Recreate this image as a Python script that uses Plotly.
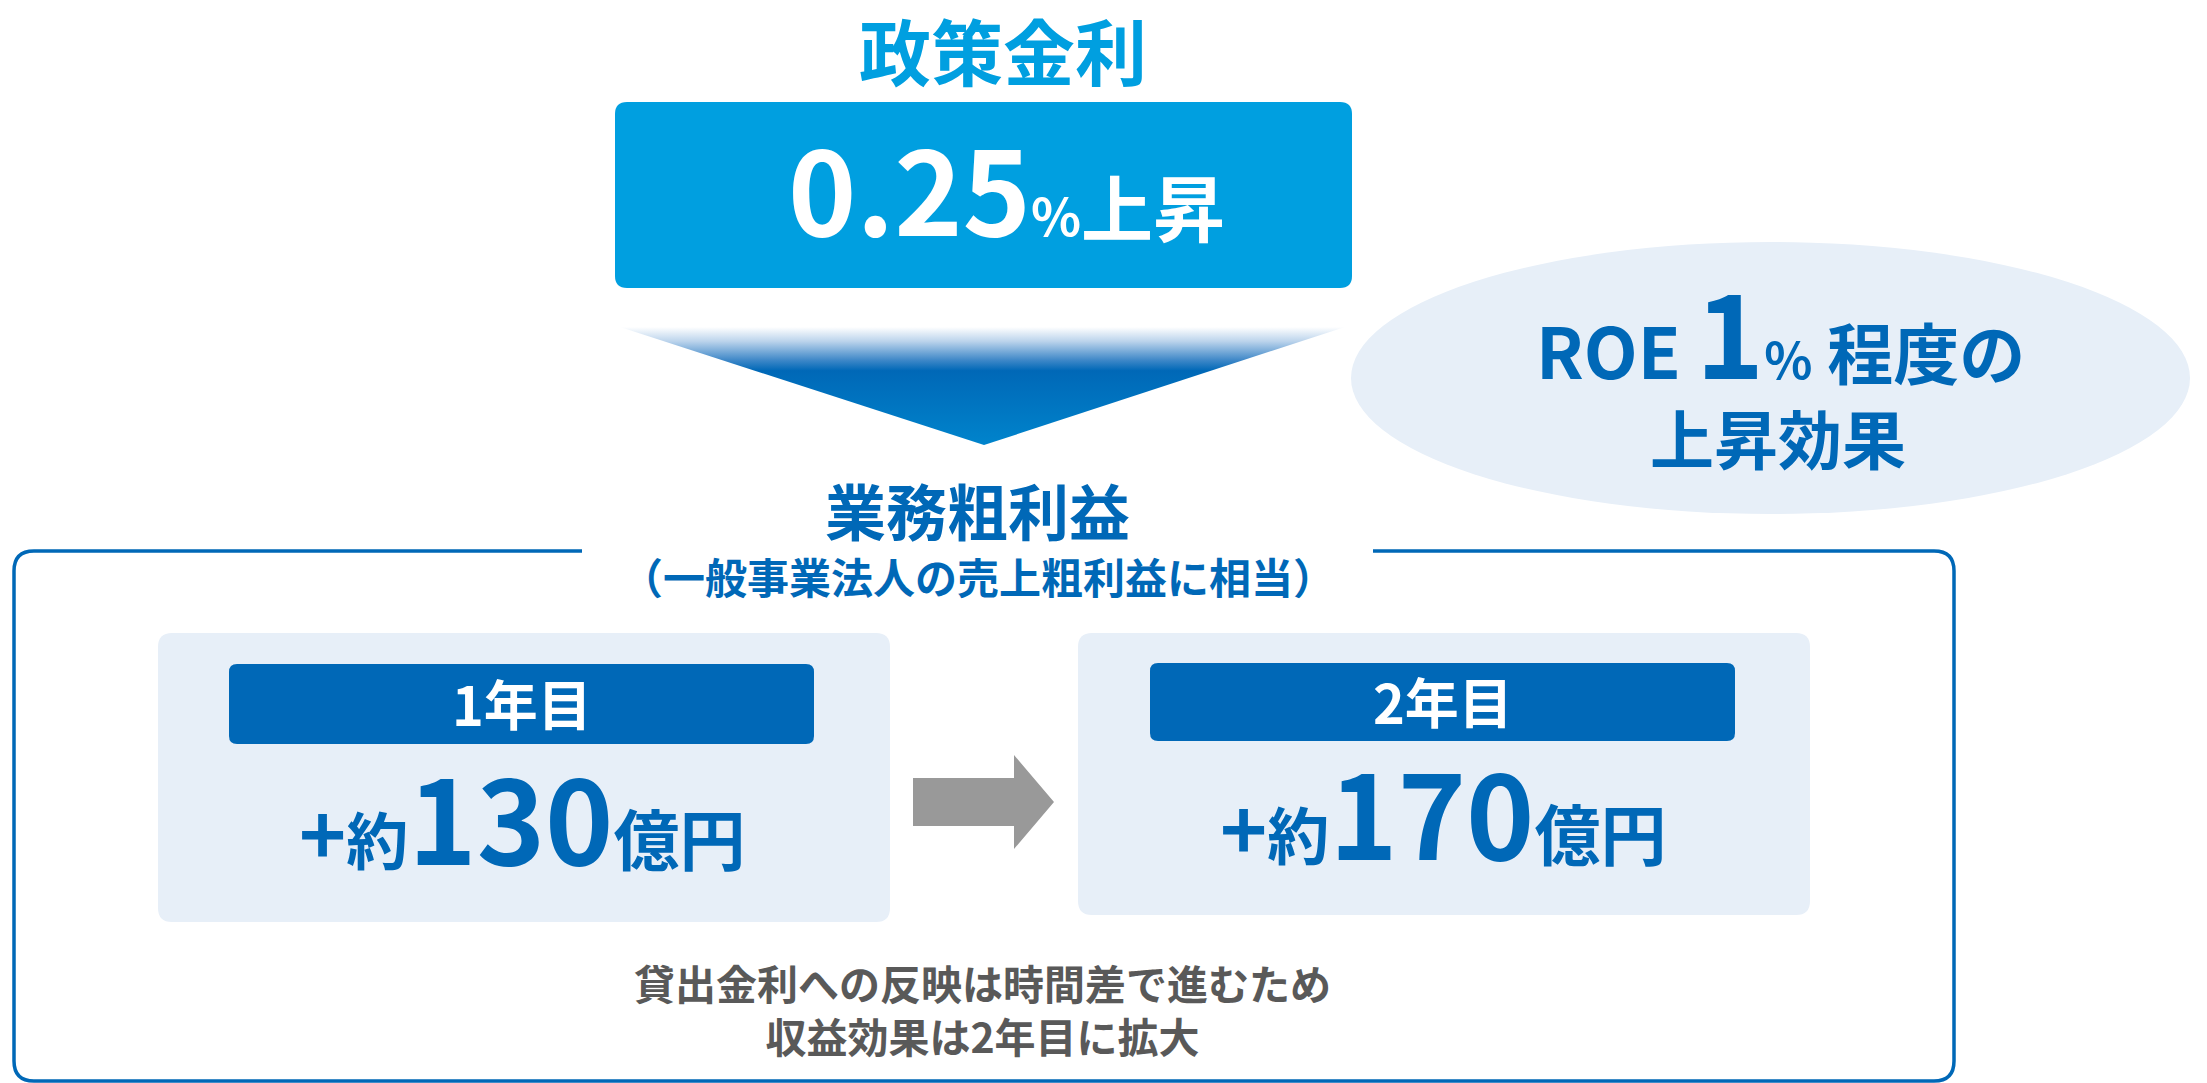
import plotly.graph_objects as go

# ---- data ----
policy_title = "政策金利"
rate_rise = [0.25]          # % point rise of the policy rate
roe_effect = [1]            # ROE uplift, %
years = ["1年目", "2年目"]
profit_gain = [130, 170]    # 業務粗利益 increase, 億円
section_title = "業務粗利益"
section_sub = "（一般事業法人の売上粗利益に相当）"
note_lines = ["貸出金利への反映は時間差で進むため", "収益効果は2年目に拡大"]

# ---- style ----
W, H = 2207, 1083
CYAN = "#009FE0"
BLUE = "#0068B7"
PALE = "#E7EFF8"
GREY = "#999999"
TXT_GREY = "#595959"
JP = "Noto Sans CJK JP"


def rrect(x0, y0, x1, y1, r):
    return (f"M{x0+r},{y0} L{x1-r},{y0} Q{x1},{y0} {x1},{y0+r} "
            f"L{x1},{y1-r} Q{x1},{y1} {x1-r},{y1} L{x0+r},{y1} "
            f"Q{x0},{y1} {x0},{y1-r} L{x0},{y0+r} Q{x0},{y0} {x0+r},{y0} Z")


fig = go.Figure()
shapes = []
ann = []

# policy-rate box
ann.append(dict(x=1003, y=48, text=f"<b>{policy_title}</b>",
                font=dict(family=JP, size=72, color=CYAN)))
shapes.append(dict(type="path", path=rrect(615, 102, 1352, 288, 12),
                   fillcolor=CYAN, line=dict(width=0), layer="below"))
ann.append(dict(x=1006, y=185,
                text=(f"<b>{rate_rise[0]:.2f}<span style='font-size:52px'>%</span>"
                      f"<span style='font-size:72px'>上昇</span></b>"),
                font=dict(family=JP, size=116, color="white")))

# gradient chevron
fig.add_trace(go.Scatter(
    x=[620, 1345, 984, 620], y=[327, 327, 445, 327],
    mode="lines", line=dict(width=0), fill="toself",
    fillgradient=dict(type="vertical", start=327, stop=445,
                      colorscale=[[0, "rgba(255,255,255,1)"], [0.12, "#BCD4EC"],
                                  [0.28, "#3F88C8"], [0.37, "#0068B7"],
                                  [1, "#0084CC"]]),
    hoverinfo="skip", showlegend=False))

# ROE ellipse
shapes.append(dict(type="circle", x0=1351, x1=2190, y0=242, y1=514,
                   fillcolor=PALE, line=dict(width=0), layer="below"))
ann.append(dict(x=1780, y=328,
                text=(f"<b><span style='font-size:70px'>ROE</span> "
                      f"<span style='font-size:116px'>{roe_effect[0]}</span>"
                      f"<span style='font-size:50px'>%</span> 程度の</b>"),
                font=dict(family=JP, size=66, color=BLUE)))
ann.append(dict(x=1778, y=436, text="<b>上昇効果</b>",
                font=dict(family=JP, size=64, color=BLUE)))

# section title
ann.append(dict(x=977, y=509, text=f"<b>{section_title}</b>",
                font=dict(family=JP, size=61, color=BLUE)))
ann.append(dict(x=978, y=575, text=f"<b>{section_sub}</b>",
                font=dict(family=JP, size=42, color=BLUE)))

# outer frame (open at top)
L, R, T, B, r = 14, 1954, 551, 1081, 20
frame = (f"M582,{T} L{L+r},{T} Q{L},{T} {L},{T+r} L{L},{B-r} Q{L},{B} {L+r},{B} "
         f"L{R-r},{B} Q{R},{B} {R},{B-r} L{R},{T+r} Q{R},{T} {R-r},{T} L1373,{T}")
shapes.append(dict(type="path", path=frame, line=dict(color=BLUE, width=3.5)))

# year panels
panels = [dict(px=(158, 890), py=(633, 922), hx=(229, 814), hy=(664, 744), cx=522, base=814),
          dict(px=(1078, 1810), py=(633, 915), hx=(1150, 1735), hy=(663, 741), cx=1443, base=809)]
for p, yr, val in zip(panels, years, profit_gain):
    shapes.append(dict(type="path", path=rrect(p["px"][0], p["py"][0], p["px"][1], p["py"][1], 14),
                       fillcolor=PALE, line=dict(width=0), layer="below"))
    shapes.append(dict(type="path", path=rrect(p["hx"][0], p["hy"][0], p["hx"][1], p["hy"][1], 8),
                       fillcolor=BLUE, line=dict(width=0), layer="below"))
    ann.append(dict(x=p["cx"], y=(p["hy"][0] + p["hy"][1]) / 2 - 2, text=f"<b>{yr}</b>",
                    font=dict(family=JP, size=54, color="white")))
    ann.append(dict(x=p["cx"], y=p["base"],
                    text=(f"<b><span style='font-size:80px'>+</span>"
                          f"<span style='font-size:62px'>約</span>{val}"
                          f"<span style='font-size:66px'>億円</span></b>"),
                    font=dict(family=JP, size=116, color=BLUE)))

# grey arrow between panels
shapes.append(dict(type="path",
                   path="M913,778 L1014,778 L1014,755 L1054,802 L1014,849 L1014,826 L913,826 Z",
                   fillcolor=GREY, line=dict(width=0)))

# note
ann.append(dict(x=982, y=1008, text="<b>" + "<br>".join(note_lines) + "</b>",
                font=dict(family=JP, size=41, color=TXT_GREY)))

for a in ann:
    a.update(xref="x", yref="y", showarrow=False, xanchor="center", yanchor="middle")

fig.update_layout(
    width=W, height=H, margin=dict(l=0, r=0, t=0, b=0),
    paper_bgcolor="white", plot_bgcolor="white",
    xaxis=dict(range=[0, W], visible=False, fixedrange=True),
    yaxis=dict(range=[H, 0], visible=False, fixedrange=True),
    shapes=shapes, annotations=ann, showlegend=False,
)
fig.write_html("out.html", config={"displayModeBar": False},
               post_script="document.body.style.margin='0';document.body.style.overflow='hidden';")
